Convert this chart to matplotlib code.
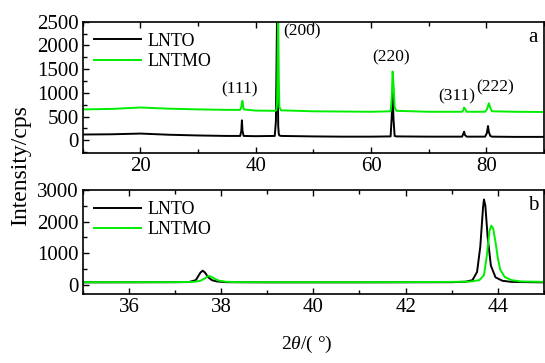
import matplotlib.pyplot as plt
from matplotlib.ticker import MultipleLocator

plt.rcParams['font.family'] = ['Liberation Serif', 'DejaVu Serif']
plt.rcParams['mathtext.fontset'] = 'custom'
plt.rcParams['mathtext.rm'] = 'Liberation Serif'
plt.rcParams['mathtext.it'] = 'Liberation Serif:italic'

# Panel a: full scan
a_x = [10, 15, 20, 25, 30, 35, 37.3, 37.5, 37.6, 37.7, 37.9, 40, 43.3, 43.5, 43.6, 43.7,
       43.8, 43.9, 44.0, 44.1, 44.4, 50, 55, 60, 63.4, 63.6, 63.75, 63.9, 64.1, 64.4, 70,
       75.8, 76.0, 76.15, 76.3, 76.6, 79.8, 80.1, 80.3, 80.45, 80.7, 81.0, 85, 90]
a_lnto = [120, 125, 140, 115, 100, 90, 90, 200, 420, 200, 90, 85, 90, 400, 1500, 2700,
          1400, 300, 130, 100, 90, 80, 75, 75, 80, 500, 1000, 450, 90, 80, 75,
          75, 130, 180, 110, 75, 75, 150, 300, 170, 90, 75, 70, 70]
a_lntmo = [650, 660, 690, 665, 650, 640, 640, 700, 800, 830, 650, 625, 620, 625, 640, 800,
           1800, 2650, 1300, 700, 630, 610, 605, 600, 610, 900, 1450, 1200, 700, 620, 600,
           600, 630, 690, 660, 600, 600, 650, 720, 780, 680, 610, 600, 595]

# Panel b: zoom 35-45 degrees
b_x_lnto = [35, 36, 37, 37.3, 37.45, 37.55, 37.6, 37.65, 37.72, 37.8, 37.9, 38.1, 39, 40,
            41, 42, 43, 43.3, 43.45, 43.55, 43.62, 43.68, 43.7, 43.73, 43.78, 43.85, 43.95,
            44.1, 44.3, 45]
b_lnto = [70, 72, 75, 80, 140, 380, 440, 380, 230, 140, 100, 75, 70, 70,
          70, 72, 75, 90, 140, 400, 1200, 2450, 2700, 2500, 1500, 600, 230,
          120, 85, 70]
b_x_lntmo = [35, 36, 37, 37.4, 37.55, 37.65, 37.72, 37.78, 37.85, 37.95, 38.1, 38.3, 39, 40,
             41, 42, 43, 43.4, 43.6, 43.7, 43.76, 43.82, 43.86, 43.9, 43.95, 44.0, 44.05,
             44.15, 44.3, 44.5, 45]
b_lntmo = [75, 75, 78, 85, 120, 200, 270, 255, 190, 125, 90, 78, 75, 75,
           75, 78, 85, 95, 140, 300, 900, 1700, 1870, 1780, 1350, 850, 480,
           240, 140, 100, 85]

peak_labels = ['(111)', '(200)', '(220)', '(311)', '(222)']
peak_x = [37.1, 48.0, 63.4, 74.8, 81.6]
peak_y = [1080, 2290, 1740, 920, 1120]

fig = plt.figure(figsize=(5.45, 3.63), dpi=100)
ax1 = fig.add_axes([0.152, 0.5785, 0.846, 0.3617])
ax2 = fig.add_axes([0.152, 0.190, 0.846, 0.2866])

ax1.plot(a_x, a_lnto, color='black', lw=1.4, label='LNTO')
ax1.plot(a_x, a_lntmo, color='#00ee00', lw=1.4, label='LNTMO')
ax1.set_xlim(10, 90)
ax1.set_ylim(-270, 2500)
ax1.xaxis.set_major_locator(MultipleLocator(20))
ax1.xaxis.set_minor_locator(MultipleLocator(10))
ax1.yaxis.set_major_locator(MultipleLocator(500))
ax1.yaxis.set_minor_locator(MultipleLocator(250))
for lab, x, y in zip(peak_labels, peak_x, peak_y):
    ax1.text(x, y, lab, ha='center', va='center', fontsize=12.5)
ax1.text(88.1, 2160, 'a', ha='center', va='center', fontsize=15)

ax2.plot(b_x_lnto, b_lnto, color='black', lw=1.4, label='LNTO')
ax2.plot(b_x_lntmo, b_lntmo, color='#00ee00', lw=1.4, label='LNTMO')
ax2.set_xlim(35, 45)
ax2.set_ylim(-300, 3000)
ax2.xaxis.set_major_locator(MultipleLocator(2))
ax2.xaxis.set_minor_locator(MultipleLocator(1))
ax2.yaxis.set_major_locator(MultipleLocator(1000))
ax2.yaxis.set_minor_locator(MultipleLocator(500))
ax2.text(44.77, 2510, 'b', ha='center', va='center', fontsize=15)

for ax in (ax1, ax2):
    ax.tick_params(which='both', direction='in', top=True, right=False, labelsize=15, pad=3)
    ax.tick_params(which='major', length=4, width=1)
    ax.tick_params(which='minor', length=3, width=1)
    for s in ax.spines.values():
        s.set_linewidth(1.2)
    ax.legend(loc='upper left', frameon=False, fontsize=13, handlelength=2.6,
              borderaxespad=0.2, labelspacing=0.2, handletextpad=0.4)

fig.text(0.037, 0.545, 'Intensity/cps', rotation=90, ha='center', va='center', fontsize=17)
fig.text(0.563, 0.05, '2$\\mathit{\\theta}$/( °)', ha='center', va='center', fontsize=14)

fig.savefig('out.png', dpi=100)
